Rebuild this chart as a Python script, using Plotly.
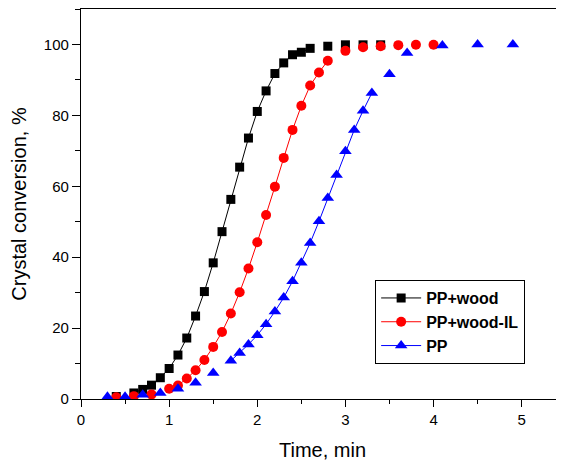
import plotly.graph_objects as go

# ---- data ----
t_wood = [0.4, 0.6, 0.7, 0.8, 0.9, 1.0, 1.1, 1.2, 1.3, 1.4, 1.5, 1.6, 1.7, 1.8, 1.9,
          2.0, 2.1, 2.2, 2.3, 2.4, 2.5, 2.6, 2.8, 3.0, 3.2, 3.4]
y_wood = [0.7, 1.7, 2.7, 3.9, 6.0, 8.6, 12.4, 17.2, 23.4, 30.3, 38.4, 47.2, 56.3, 65.4, 73.6,
          81.1, 86.9, 91.8, 94.8, 97.1, 97.8, 98.9, 99.5, 99.9, 99.9, 99.9]

t_il = [0.4, 0.6, 0.8, 1.0, 1.1, 1.2, 1.3, 1.4, 1.5, 1.6, 1.7, 1.8, 1.9, 2.0, 2.1,
        2.2, 2.3, 2.4, 2.5, 2.6, 2.7, 2.8, 3.0, 3.2, 3.4, 3.6, 3.8, 4.0]
y_il = [0.5, 0.8, 1.3, 2.9, 3.8, 5.8, 8.1, 11.0, 14.7, 18.9, 24.1, 30.1, 36.8, 44.2, 51.9,
        59.9, 68.0, 75.9, 82.7, 88.4, 92.1, 95.4, 98.2, 99.2, 99.5, 99.8, 99.9, 99.9]

t_pp = [0.3, 0.5, 0.7, 0.9, 1.1, 1.3, 1.5, 1.7, 1.8, 1.9, 2.0, 2.1, 2.2, 2.3, 2.4,
        2.5, 2.6, 2.7, 2.8, 2.9, 3.0, 3.1, 3.2, 3.3, 3.5, 3.7, 4.1, 4.5, 4.9]
y_pp = [0.6, 0.6, 1.2, 1.7, 2.9, 4.6, 7.3, 10.8, 13.0, 15.4, 18.0, 21.1, 24.7, 28.6, 33.2,
        38.4, 44.0, 50.1, 56.7, 63.2, 69.9, 75.9, 81.3, 86.3, 91.6, 97.6, 99.7, 100.0, 100.0]

names = ["PP+wood", "PP+wood-IL", "PP"]
colors = ["#000000", "#ff0000", "#0000ff"]
symbols = ["square", "circle", "triangle-up"]
sizes = [9, 10, 11]
# index range of points joined by the connecting line
line_span = [(1, 22), (3, 22), (7, 24)]

series = [(t_wood, y_wood), (t_il, y_il), (t_pp, y_pp)]

fig = go.Figure()
for (tx, ty), name, c, s, sz, (a, b) in zip(series, names, colors, symbols, sizes, line_span):
    fig.add_trace(go.Scatter(
        x=tx[a:b], y=ty[a:b], mode="lines", name=name, showlegend=False,
        line=dict(color=c, width=1)))
for (tx, ty), name, c, s, sz, (a, b) in zip(series, names, colors, symbols, sizes, line_span):
    fig.add_trace(go.Scatter(
        x=tx, y=ty, mode="markers", name=name, showlegend=False,
        marker=dict(color=c, symbol=s, size=sz, line=dict(width=0))))
# legend entries (line + marker)
for (tx, ty), name, c, s, sz, (a, b) in zip(series, names, colors, symbols, sizes, line_span):
    fig.add_trace(go.Scatter(
        x=[None], y=[None], mode="lines+markers", name=name,
        line=dict(color=c, width=1),
        marker=dict(color=c, symbol=s, size=sz, line=dict(width=0))))

font = "Arial, Liberation Sans, sans-serif"
# the page body has an 8px margin, so the figure is sized to fit the rest of the window
fig.update_layout(
    width=556, height=453,
    margin=dict(l=73, r=0, t=1, b=62, autoexpand=False),
    paper_bgcolor="white", plot_bgcolor="white",
    font=dict(family=font, size=15, color="black"),
    showlegend=True,
    legend=dict(
        x=0.609, y=0.305, xanchor="left", yanchor="top",
        bordercolor="black", borderwidth=1, bgcolor="white",
        font=dict(family=font, size=16, color="black", weight="bold"),
        tracegroupgap=0, itemwidth=40,
    ),
)
fig.update_xaxes(
    range=[0, 5.48], showgrid=False, zeroline=False, automargin=False,
    showline=True, linecolor="black", linewidth=1.3, mirror=True,
    ticks="outside", ticklen=7, tickwidth=1.2, tickcolor="black",
    tickvals=[0, 1, 2, 3, 4, 5],
    minor=dict(ticks="outside", ticklen=4, tickwidth=1.2, tickcolor="black", dtick=0.5, tick0=0),
    tickfont=dict(size=15),
    title=dict(text="Time, min", font=dict(size=20)),
)
fig.update_yaxes(
    range=[0, 110], showgrid=False, zeroline=False, automargin=False,
    showline=True, linecolor="black", linewidth=1.3,
    ticks="outside", ticklen=8, tickwidth=1.2, tickcolor="black",
    tickvals=[0, 20, 40, 60, 80, 100],
    minor=dict(ticks="outside", ticklen=5, tickwidth=1.2, tickcolor="black", dtick=10, tick0=0),
    tickfont=dict(size=15),
    title=dict(text="Crystal conversion, %", font=dict(size=20)),
)
fig.write_html("out.html")
